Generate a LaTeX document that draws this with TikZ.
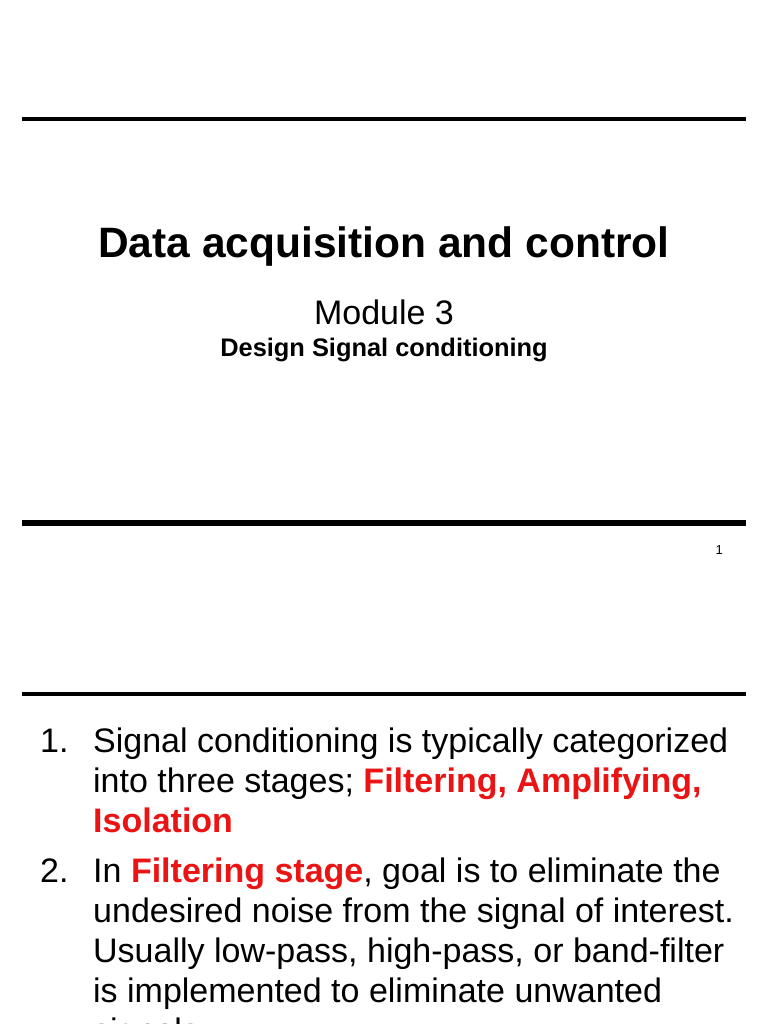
\documentclass[tikz,border=0pt]{standalone}
\usepackage{fontspec}
\setmainfont{Liberation Sans}
\definecolor{hl}{RGB}{235,20,20}
\begin{document}
\begin{tikzpicture}[x=1pt,y=-1pt,
  rule/.style={line width=#1},
  body/.style={anchor=base west,inner sep=0pt,font=\fontsize{34}{34}\selectfont}]
\clip (0,0) rectangle (768,1024);
\fill[white] (0,0) rectangle (768,1024);
\draw[rule=4pt] (22,119) -- (746,119);
\node[inner sep=0pt,anchor=base,font=\bfseries\fontsize{42.5}{42.5}\selectfont] (title) at (384,257) {Data acquisition and control};
\node[inner sep=0pt,anchor=base,font=\fontsize{34}{34}\selectfont] (mod) at (384,324) {Module 3};
\node[inner sep=0pt,anchor=base,font=\bfseries\fontsize{25.4}{25.4}\selectfont] (sub) at (384,356) {Design Signal conditioning};
\draw[rule=6pt] (22,523) -- (746,523);
\node[inner sep=0pt,anchor=base east,font=\fontsize{13}{13}\selectfont] (pg) at (723,554) {1};
\draw[rule=4pt] (22,694) -- (746,694);
\node[body] (n1) at (40,752) {1.};
\node[body] (l1) at (93,752) {Signal conditioning is typically categorized};
\node[body] (l2) at (93,792) {into three stages; \textcolor{hl}{\bfseries Filtering, Amplifying,}};
\node[body] (l3) at (93,832) {\textcolor{hl}{\bfseries Isolation}};
\node[body] (n2) at (40,882) {2.};
\node[body] (l4) at (93,882) {In \textcolor{hl}{\bfseries Filtering stage}, goal is to eliminate the};
\node[body] (l5) at (93,922) {undesired noise from the signal of interest.};
\node[body] (l6) at (93,962) {Usually low-pass, high-pass, or band-filter};
\node[body] (l7) at (93,1002) {is implemented to eliminate unwanted};
\node[body] (l8) at (93,1042) {signals.};
\end{tikzpicture}
\end{document}
